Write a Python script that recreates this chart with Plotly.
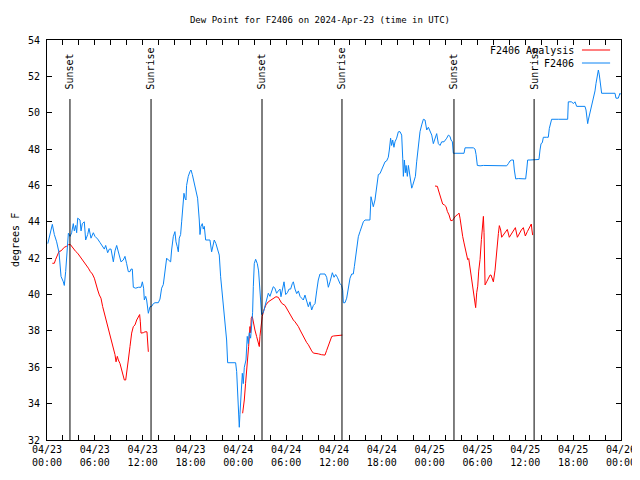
import pandas as pd
import plotly.graph_objects as go

START = pd.Timestamp("2024-04-23 00:00")

# Observed dew point F2406 (hours since 04/23 00:00 UTC, degrees F)
obs_hours = [0.1, 0.4, 0.67, 0.92, 1.21, 1.51, 1.76, 2.05, 2.17, 2.34, 2.47, 2.68, 2.9, 3.09, 3.3, 3.43, 3.6, 3.72, 3.85, 4.14,
             4.27, 4.43, 4.68, 4.85, 5.1, 5.27, 5.52, 5.81, 6.02, 6.36, 6.65, 6.94, 7.19, 7.36, 7.61, 7.82, 8.03, 8.32, 8.53, 8.74,
             8.86, 9.03, 9.28, 9.57, 9.78, 9.99, 10.2, 10.41, 10.54, 10.7, 10.83, 11.12, 11.46, 11.79, 11.96, 12.12, 12.21, 12.38, 12.5, 12.71,
             12.92, 13.13, 13.34, 13.55, 13.96, 14.17, 14.38, 14.59, 14.8, 15.01, 15.22, 15.51, 15.63, 15.84, 16.05, 16.18, 16.34, 16.47, 16.59, 16.76,
             16.89, 17.01, 17.18, 17.31, 17.43, 17.51, 17.72, 17.93, 18.06, 18.23, 18.43, 18.69, 18.89, 19.1, 19.19, 19.31, 19.48, 19.6, 19.73, 19.9,
             20.11, 20.44, 20.65, 20.78, 20.98, 21.19, 21.36, 21.61, 21.78, 21.99, 22.11, 22.32, 22.53, 22.66, 22.95, 23.37, 23.66, 23.79, 23.91, 24.08,
             24.12, 24.2, 24.33, 24.5, 24.62, 24.75, 24.96, 25.12, 25.25, 25.37, 25.54, 25.67, 25.79, 25.88, 26.0, 26.17, 26.38, 26.54, 26.71, 26.84,
             26.92, 27.13, 27.34, 27.55, 27.76, 27.97, 28.18, 28.38, 28.59, 28.8, 29.01, 29.23, 29.35, 29.52, 29.73, 29.94, 30.15, 30.36, 30.56, 30.77,
             30.9, 31.11, 31.32, 31.53, 31.74, 31.94, 32.15, 32.36, 32.57, 32.78, 32.99, 33.2, 33.41, 33.62, 33.83, 34.03, 34.24, 34.45, 34.87, 35.08,
             35.29, 35.5, 35.62, 35.79, 36.0, 36.21, 36.42, 36.54, 36.75, 36.96, 37.09, 37.17, 37.38, 37.59, 37.8, 38.01, 38.22, 38.42, 38.55, 38.72,
             38.97, 39.05, 39.26, 39.47, 39.68, 39.89, 40.31, 40.51, 40.64, 40.81, 40.93, 41.14, 41.35, 41.56, 41.77, 41.98, 42.19, 42.4, 42.6, 42.81,
             42.94, 43.1, 43.23, 43.36, 43.52, 43.65, 43.86, 44.07, 44.28, 44.49, 44.62, 44.7, 44.83, 44.95, 45.04, 45.2, 45.33, 45.45, 45.62, 45.75,
             45.87, 46.04, 46.21, 46.37, 46.58, 46.79, 47.0, 47.21, 47.42, 47.63, 47.84, 48.05, 48.26, 48.46, 48.67, 48.88, 49.09, 49.3, 49.51, 49.8,
             50.14, 50.35, 50.55, 50.68, 50.85, 50.97, 51.18, 51.81, 52.31, 52.44, 52.85, 53.48, 53.69, 53.82, 53.98, 54.32, 54.74, 55.57, 55.99, 56.41,
             56.83, 57.66, 57.87, 58.08, 58.29, 58.5, 58.62, 58.79, 59.12, 59.54, 60.04, 60.17, 60.29, 60.59, 61.13, 61.42, 61.71, 61.84, 61.97, 62.13,
             62.26, 62.68, 62.88, 63.01, 63.18, 63.3, 64.14, 65.31, 65.39, 65.81, 66.02, 66.23, 66.44, 66.65, 67.48, 67.61, 67.74, 67.82, 67.9, 68.03,
             68.24, 68.4, 68.53, 68.74, 68.86, 69.07, 69.16, 69.28, 69.41, 69.57, 69.99, 70.83, 71.25, 71.37, 71.66, 71.87, 72.0]
obs_values = [42.8, 43.3, 43.86, 43.3, 42.9, 42.3, 41.0, 40.7, 40.5, 41.26, 41.9, 43.37, 43.2, 43.4, 43.9, 43.5, 43.8, 43.4, 44.2, 44.1,
              43.5, 43.9, 44.0, 43.0, 43.3, 43.64, 43.1, 43.4, 43.2, 43.05, 42.86, 42.7, 42.5, 42.7, 42.3, 42.5, 42.5, 41.8, 42.4, 42.7,
              42.5, 42.2, 41.8, 41.9, 42.1, 41.7, 41.26, 41.26, 41.4, 41.4, 40.4, 40.35, 40.4, 40.4, 40.7, 40.35, 39.7, 39.9, 39.7, 38.97,
              39.33, 39.35, 39.5, 39.55, 39.55, 39.75, 40.35, 40.55, 41.44, 42.0, 41.9, 41.8, 42.45, 43.18, 43.46, 42.9, 42.63, 42.35, 43.1, 43.3,
              44.0, 44.83, 45.57, 45.3, 45.2, 46.0, 46.5, 46.76, 46.85, 46.6, 46.2, 45.7, 45.3, 44.1, 43.3, 43.75, 43.9, 43.6, 43.75, 43.0,
              43.0, 43.0, 42.35, 42.6, 43.0, 42.8, 42.5, 42.17, 40.98, 39.97, 39.5, 38.6, 37.5, 36.25, 36.25, 36.25, 36.25, 35.76, 34.57, 33.2,
              32.7, 33.4, 34.57, 35.67, 35.1, 36.0, 36.4, 37.7, 37.3, 37.9, 37.6, 38.4, 39.0, 40.43, 41.7, 41.94, 41.7, 41.3, 40.25, 39.0,
              38.9, 39.0, 39.33, 39.6, 40.07, 39.9, 40.2, 40.43, 40.35, 40.07, 40.2, 40.3, 39.88, 40.3, 40.7, 40.0, 40.1, 40.3, 40.3, 40.6,
              40.7, 40.3, 40.05, 40.2, 39.9, 39.8, 39.7, 39.97, 39.6, 39.33, 39.6, 39.15, 39.4, 39.5, 40.2, 40.8, 41.13, 41.13, 41.13, 40.95,
              40.4, 40.7, 40.9, 41.2, 40.95, 41.1, 40.95, 40.8, 40.6, 40.5, 40.24, 39.55, 39.55, 39.8, 40.4, 40.9, 41.13, 41.13, 41.53, 42.08,
              42.63, 43.18, 43.46, 43.73, 44.0, 44.1, 44.1, 44.1, 45.38, 45.1, 44.83, 45.2, 45.9, 46.6, 46.65, 46.85, 47.1, 47.3, 47.35, 47.55,
              47.95, 48.6, 48.2, 48.5, 48.1, 48.4, 48.6, 48.95, 48.96, 48.77, 47.5, 46.5, 47.4, 46.7, 47.1, 46.5, 47.1, 46.8, 46.2, 45.85,
              46.0, 46.2, 46.5, 47.3, 48.13, 48.96, 49.33, 49.64, 49.6, 49.05, 49.2, 48.96, 48.77, 48.3, 48.6, 48.85, 48.3, 48.2, 48.4, 48.4,
              48.6, 48.77, 48.7, 48.5, 48.4, 47.77, 47.77, 47.77, 47.77, 48.07, 48.07, 48.07, 48.0, 47.7, 47.1, 47.08, 47.1, 47.1, 47.08, 47.08,
              47.1, 47.08, 47.2, 47.35, 47.4, 47.4, 46.85, 46.36, 46.38, 46.36, 46.36, 46.85, 47.4, 47.4, 47.4, 47.4, 47.43, 47.95, 48.3, 48.35,
              48.65, 48.65, 48.65, 49.14, 49.5, 49.64, 49.64, 49.64, 50.6, 50.6, 50.5, 50.6, 50.35, 50.35, 50.35, 50.15, 49.6, 49.4, 49.6, 49.85,
              50.15, 50.6, 50.88, 51.2, 51.6, 52.08, 52.35, 52.08, 51.6, 51.07, 51.07, 51.07, 51.07, 50.8, 50.8, 51.07, 51.0]

# Analysis dew point (three separate runs)
ana1_hours = [0.67, 0.92, 1.09, 1.34, 1.51, 1.76, 1.92, 2.17, 2.43, 2.68, 2.93, 3.09, 3.3, 3.6, 3.85, 4.14, 4.43, 4.68, 4.98, 5.19,
              5.44, 5.69, 5.94, 6.15, 6.36, 6.56, 6.77, 6.98, 7.19, 7.4, 7.61, 7.82, 8.03, 8.24, 8.4, 8.53, 8.66, 8.82, 8.95, 9.16,
              9.37, 9.57, 9.7, 9.87, 10.03, 10.2, 10.41, 10.62, 10.83, 11.04, 11.25, 11.46, 11.62, 11.71, 11.79, 12.08, 12.29, 12.54, 12.63, 12.71]
ana1_values = [41.72, 41.72, 41.94, 42.18, 42.37, 42.4, 42.5, 42.6, 42.65, 42.74, 42.75, 42.65, 42.5, 42.37, 42.27, 42.1, 41.94, 41.8, 41.63, 41.45,
               41.26, 41.13, 40.9, 40.53, 40.25, 39.98, 39.8, 39.34, 38.98, 38.7, 38.33, 37.97, 37.7, 37.33, 36.96, 36.69, 36.3, 36.6, 36.4, 36.2,
               35.85, 35.57, 35.3, 35.3, 35.75, 36.4, 37.14, 37.88, 38.24, 38.33, 38.6, 38.8, 38.9, 38.5, 37.88, 37.9, 37.95, 37.95, 37.3, 36.85]
ana2_hours = [24.54, 24.75, 24.91, 25.04, 25.17, 25.29, 25.37, 25.46, 25.54, 25.62, 25.75, 25.88, 26.08, 26.29, 26.5, 26.63, 26.71, 26.84, 27.0, 27.21,
              27.46, 27.76, 28.05, 28.38, 28.72, 29.01, 29.23, 29.44, 29.85, 30.06, 30.27, 30.48, 30.69, 30.9, 31.11, 31.32, 31.53, 31.74, 31.94, 32.15,
              32.36, 32.57, 32.78, 32.99, 33.2, 33.41, 33.74, 34.03, 34.45, 34.74, 34.87, 35.08, 35.29, 35.5, 35.71, 35.92, 36.33, 36.75, 37.04]
ana2_values = [33.47, 34.2, 35.12, 35.67, 36.4, 37.14, 37.7, 38.24, 37.9, 38.7, 38.8, 38.42, 38.05, 37.7, 37.42, 37.14, 37.7, 38.42, 38.8, 39.15,
               39.43, 39.6, 39.7, 39.8, 39.88, 39.85, 39.7, 39.52, 39.4, 39.24, 39.06, 38.88, 38.75, 38.6, 38.5, 38.38, 38.24, 38.05, 37.87, 37.69,
               37.55, 37.36, 37.24, 37.05, 36.9, 36.78, 36.78, 36.74, 36.69, 36.65, 36.67, 36.93, 37.2, 37.47, 37.69, 37.72, 37.75, 37.77, 37.77]
ana3_hours = [48.67, 48.97, 49.09, 49.3, 49.51, 49.63, 49.84, 50.05, 50.22, 50.43, 50.64, 50.85, 51.06, 51.27, 51.52, 51.68, 51.81, 51.93, 52.14, 52.31,
              52.48, 52.65, 52.77, 52.9, 53.06, 53.23, 53.4, 53.57, 53.69, 53.77, 53.9, 54.03, 54.15, 54.32, 54.49, 54.61, 54.74, 54.82, 54.95, 55.15,
              55.36, 55.57, 55.7, 55.82, 55.99, 56.2, 56.41, 56.62, 56.74, 56.91, 57.03, 57.24, 57.45, 57.74, 57.99, 58.29, 58.5, 58.75, 59.0, 59.25,
              59.5, 59.75, 60.0, 60.25, 60.5, 60.75, 60.83, 60.92]
ana3_values = [45.97, 45.95, 45.75, 45.48, 45.2, 44.98, 44.93, 44.84, 44.57, 44.38, 44.07, 44.07, 44.2, 44.33, 44.4, 44.48, 44.2, 43.75, 43.2, 42.84,
               42.47, 42.02, 41.92, 41.98, 41.47, 40.83, 40.37, 39.92, 39.55, 39.28, 40.1, 40.46, 41.29, 41.93, 43.03, 43.94, 44.3, 43.4, 40.53, 40.7,
               40.9, 41.07, 41.07, 40.9, 40.7, 41.34, 42.62, 43.35, 43.79, 43.55, 43.15, 43.27, 43.4, 43.58, 43.15, 43.37, 43.5, 43.68, 43.15, 43.37,
               43.55, 43.68, 43.22, 43.46, 43.68, 43.88, 43.55, 43.27]

# Sun events (hours since start)
sun_hours = [2.88, 13.05, 26.97, 37.0, 51.05, 61.1]
sun_labels = ["Sunset", "Sunrise", "Sunset", "Sunrise", "Sunset", "Sunrise"]

tick_hours = list(range(0, 73, 2))

FONT = "DejaVu Sans Mono"
RED = "#ff0000"
BLUE = "#0a84f5"

# The page body has an 8px margin, so the figure is sized to fill the rest of the window.
FIG_W, FIG_H = 632, 472
M_L, M_R, M_T, M_B = 39, 19, 32, 40
PLOT_W = FIG_W - M_L - M_R


def to_time(hours):
    return [START + pd.Timedelta(hours=h) for h in hours]


red_x, red_y = [], []
for hs, vs in [(ana1_hours, ana1_values), (ana2_hours, ana2_values), (ana3_hours, ana3_values)]:
    if red_x:
        red_x.append(None)
        red_y.append(None)
    red_x += to_time(hs)
    red_y += vs

fig = go.Figure()
fig.add_trace(go.Scatter(x=red_x, y=red_y, mode="lines", name="F2406 Analysis",
                         line=dict(color=RED, width=1), connectgaps=False, showlegend=False))
fig.add_trace(go.Scatter(x=to_time(obs_hours), y=obs_values, mode="lines", name="F2406",
                         line=dict(color=BLUE, width=1), showlegend=False))

shapes = []
annotations = []
for h, lab in zip(sun_hours, sun_labels):
    t = START + pd.Timedelta(hours=h)
    shapes.append(dict(type="line", xref="x", yref="paper", x0=t, x1=t, y0=0, y1=0.8525,
                       line=dict(color="black", width=1)))
    annotations.append(dict(x=t, y=0.871, xref="x", yref="paper", text=lab, textangle=-90,
                            showarrow=False, xanchor="center", yanchor="bottom",
                            font=dict(family=FONT, size=10, color="black")))

# gnuplot-style key (text right-aligned, sample on the right)
for label, color, yk in [("F2406 Analysis", RED, 0.975), ("F2406", BLUE, 0.9425)]:
    annotations.append(dict(x=0.921, y=yk, xref="paper", yref="paper", text=label, showarrow=False,
                            xanchor="right", yanchor="middle",
                            font=dict(family=FONT, size=10, color="black")))
    shapes.append(dict(type="line", xref="paper", yref="paper", x0=0.932, x1=0.981, y0=yk, y1=yk,
                       line=dict(color=color, width=1)))

# y-axis title placed like gnuplot's ylabel
annotations.append(dict(x=-32 / PLOT_W, y=0.5, xref="paper", yref="paper", text="degrees F", textangle=-90,
                        showarrow=False, xanchor="center", yanchor="middle",
                        font=dict(family=FONT, size=10, color="black")))

tick_vals = to_time(tick_hours)
tick_text = [(START + pd.Timedelta(hours=h)).strftime("%m/%d<br>%H:%M") if h % 6 == 0 else "" for h in tick_hours]

fig.update_layout(
    width=FIG_W, height=FIG_H,
    margin=dict(l=M_L, r=M_R, t=M_T, b=M_B, autoexpand=False),
    paper_bgcolor="white", plot_bgcolor="white",
    font=dict(family=FONT, size=10, color="black"),
    title=dict(text="Dew Point for F2406 on 2024-Apr-23 (time in UTC)", x=(M_L + PLOT_W / 2 - 14) / FIG_W,
               xanchor="center", y=1 - 12 / FIG_H, yanchor="middle",
               font=dict(family=FONT, size=9, color="black")),
    shapes=shapes, annotations=annotations,
    showlegend=False,
)
fig.update_xaxes(type="date", range=[START, START + pd.Timedelta(hours=72)],
                 tickmode="array", tickvals=tick_vals, ticktext=tick_text,
                 ticks="inside", ticklen=5, tickcolor="black", tickwidth=1,
                 showline=True, linecolor="black", linewidth=1, mirror="ticks",
                 showgrid=False, zeroline=False, automargin=False, tickfont=dict(family=FONT, size=10))
fig.update_yaxes(range=[32, 54], tickmode="linear", tick0=32, dtick=2,
                 ticks="inside", ticklen=5, tickcolor="black", tickwidth=1,
                 showline=True, linecolor="black", linewidth=1, mirror="ticks",
                 showgrid=False, zeroline=False, automargin=False, ticklabelstandoff=4,
                 tickfont=dict(family=FONT, size=10))

fig.write_html("out.html")
